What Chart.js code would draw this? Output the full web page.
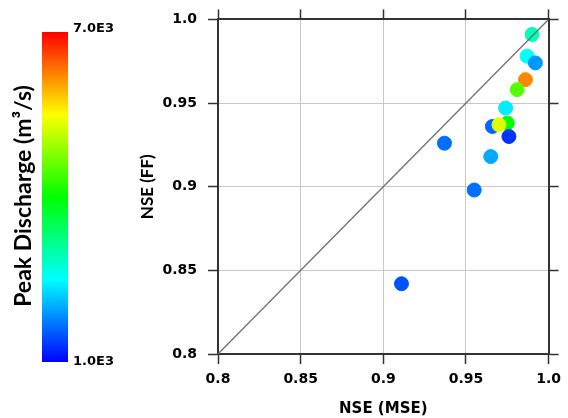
<!DOCTYPE html>
<html>
<head>
<meta charset="utf-8">
<script src="https://cdn.jsdelivr.net/npm/chart.js@4"></script>
<style>
  html, body { margin: 0; padding: 0; background: #fff; }
  #wrap { width: 568px; height: 418px; position: relative; }
</style>
</head>
<body>
<div id="wrap"><canvas id="nseChart"></canvas></div>
<script>
// datos
const nseMSE = [0.990, 0.987, 0.992, 0.986, 0.981, 0.974, 0.966, 0.975, 0.970, 0.976, 0.937, 0.965, 0.955, 0.911];
const nseFF  = [0.991, 0.978, 0.974, 0.964, 0.958, 0.947, 0.936, 0.938, 0.937, 0.930, 0.926, 0.918, 0.898, 0.842];
const peakQ  = [2900, 2500, 1900, 6200, 4500, 2400, 1600, 4000, 5300, 1300, 1650, 2000, 1650, 1480];

const diagX = [0.8, 1.0];
const diagY = [0.8, 1.0];

const xTicks = ['0.8', '0.85', '0.9', '0.95', '1.0'];
const yTicks = ['0.8', '0.85', '0.9', '0.95', '1.0'];
const tickVals = [0.8, 0.85, 0.9, 0.95, 1.0];

const qMin = 1000, qMax = 7000;
const cbarLabels = ['7.0E3', '1.0E3'];
const cbarTitle = 'Peak Discharge (m\u00B3/s)';

// color arcoiris azul -> rojo
function colorQ(q) {
    const f = Math.min(1, Math.max(0, (q - qMin) / (qMax - qMin)));
    return 'hsl(' + (240 * (1 - f)) + ',100%,50%)';
}

const puntos = nseMSE.map((x, i) => ({ x: x, y: nseFF[i] }));
const colores = peakQ.map(colorQ);

const tickFont = { family: 'DejaVu Sans', size: 14, weight: 'bold' };

// barra de color a la izquierda
const colorbarPlugin = {
    id: 'colorbar',
    afterDraw(chart) {
        const ctx = chart.ctx;
        const x0 = 42, x1 = 68, y0 = 32, y1 = 362;
        const g = ctx.createLinearGradient(0, y1, 0, y0);
        [0, 0.25, 0.5, 0.75, 1].forEach(f => {
            g.addColorStop(f, colorQ(qMin + f * (qMax - qMin)));
        });
        ctx.save();
        ctx.fillStyle = g;
        ctx.fillRect(x0, y0, x1 - x0, y1 - y0);

        ctx.fillStyle = '#000';
        ctx.font = 'bold 13px "DejaVu Sans"';
        ctx.textAlign = 'left';
        ctx.textBaseline = 'middle';
        ctx.fillText(cbarLabels[0], 73, 29);
        ctx.fillText(cbarLabels[1], 73, 362);

        ctx.translate(24, 196);
        ctx.rotate(-Math.PI / 2);
        ctx.textAlign = 'center';
        ctx.font = 'bold 23px Lato';
        ctx.fillText(cbarTitle, 0, 0);
        ctx.restore();
    }
};

const gridComun = {
    color: '#c8c8c8',
    lineWidth: 1,
    tickColor: '#333',
    tickWidth: 1.5,
    tickLength: 10
};
const bordeComun = { display: true, color: '#333', width: 2 };

const ctx = document.getElementById('nseChart').getContext('2d');
new Chart(ctx, {
    data: {
        datasets: [
            {
                type: 'line',
                data: diagX.map((x, i) => ({ x: x, y: diagY[i] })),
                borderColor: '#707070',
                borderWidth: 1.3,
                pointRadius: 0,
                fill: false
            },
            {
                type: 'scatter',
                data: puntos,
                backgroundColor: colores,
                borderColor: colores,
                pointRadius: 7,
                pointHoverRadius: 7
            }
        ]
    },
    options: {
        responsive: true,
        maintainAspectRatio: false,
        animation: false,
        layout: { padding: { left: 137, right: 0, top: 0, bottom: 0 } },
        plugins: {
            legend: { display: false },
            tooltip: { enabled: false }
        },
        scales: {
            x: {
                type: 'linear',
                position: 'bottom',
                min: 0.8,
                max: 1.0,
                afterBuildTicks: s => { s.ticks = tickVals.map(v => ({ value: v })); },
                afterFit: s => { s.height = 64; },
                ticks: {
                    font: tickFont,
                    color: '#000',
                    padding: 7,
                    maxRotation: 0,
                    callback: (v, i) => xTicks[i]
                },
                grid: gridComun,
                border: bordeComun,
                title: {
                    display: true,
                    text: 'NSE (MSE)',
                    font: { family: 'DejaVu Sans', size: 15, weight: 'bold' },
                    color: '#000',
                    padding: { top: 0, bottom: 0 }
                }
            },
            y: {
                type: 'linear',
                position: 'left',
                min: 0.8,
                max: 1.0,
                afterBuildTicks: s => { s.ticks = tickVals.map(v => ({ value: v })); },
                afterFit: s => { s.width = 81; },
                ticks: {
                    font: tickFont,
                    color: '#000',
                    padding: 11,
                    callback: (v, i) => yTicks[i]
                },
                grid: gridComun,
                border: bordeComun,
                title: {
                    display: true,
                    text: 'NSE (FF)',
                    font: { family: 'Lato', size: 17, weight: 'bold' },
                    color: '#000',
                    padding: { top: 0, bottom: 0 }
                }
            },
            x2: {
                type: 'linear',
                position: 'top',
                min: 0.8,
                max: 1.0,
                afterBuildTicks: s => { s.ticks = tickVals.map(v => ({ value: v })); },
                afterFit: s => { s.height = 19; },
                ticks: { display: false },
                grid: Object.assign({}, gridComun, { drawOnChartArea: false }),
                border: bordeComun
            },
            y2: {
                type: 'linear',
                position: 'right',
                min: 0.8,
                max: 1.0,
                afterBuildTicks: s => { s.ticks = tickVals.map(v => ({ value: v })); },
                afterFit: s => { s.width = 12; },
                ticks: { display: false },
                grid: Object.assign({}, gridComun, { drawOnChartArea: false }),
                border: bordeComun
            }
        }
    },
    plugins: [colorbarPlugin]
});
</script>
</body>
</html>
